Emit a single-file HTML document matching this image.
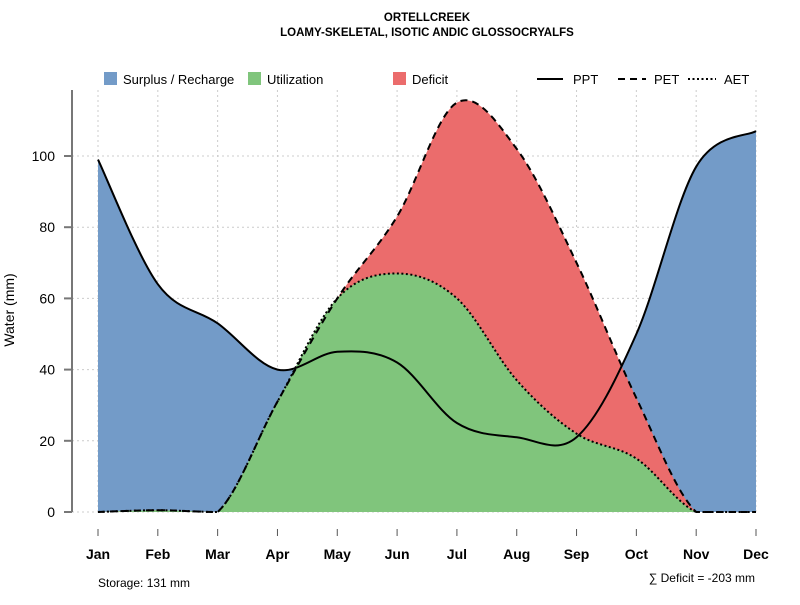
<!DOCTYPE html>
<html><head><meta charset="utf-8"><style>
body{margin:0;background:#fff}
svg{font-family:"Liberation Sans",sans-serif}
</style></head><body>
<svg id="c" width="800" height="600" xmlns="http://www.w3.org/2000/svg">
<text x="427" y="21" font-size="11.5" font-weight="bold" text-anchor="middle">ORTELLCREEK</text>
<text x="427" y="36" font-size="11.5" font-weight="bold" text-anchor="middle">LOAMY-SKELETAL, ISOTIC ANDIC GLOSSOCRYALFS</text>
<g id="grid"></g>
<g id="areas"></g>
<g id="lines"></g>
<g id="axes"></g>
<g font-size="13">
<rect x="104" y="72" width="13" height="13" fill="#739bc8"/>
<text x="123" y="84">Surplus / Recharge</text>
<rect x="248" y="72" width="13" height="13" fill="#80c57c"/>
<text x="267" y="84">Utilization</text>
<rect x="393" y="72" width="13" height="13" fill="#eb6c6c"/>
<text x="412" y="84">Deficit</text>
<line x1="537" y1="79" x2="563" y2="79" stroke="#000" stroke-width="2"/>
<text x="573" y="84">PPT</text>
<line x1="618" y1="79" x2="646" y2="79" stroke="#000" stroke-width="2" stroke-dasharray="7,5"/>
<text x="654" y="84">PET</text>
<line x1="688" y1="79" x2="716" y2="79" stroke="#000" stroke-width="2" stroke-dasharray="2,2.5"/>
<text x="724" y="84">AET</text>
</g>
<text x="98" y="587" font-size="12">Storage: 131 mm</text>
<text x="755" y="582" font-size="12" text-anchor="end">∑ Deficit = -203 mm</text>
<text transform="translate(14,310) rotate(-90)" font-size="14" text-anchor="middle">Water (mm)</text>
</svg>
<script>
const months=["Jan","Feb","Mar","Apr","May","Jun","Jul","Aug","Sep","Oct","Nov","Dec"];
const ppt=[99,64,53,40,45,42,25,21,21,50,97,107];
const pet=[0,0.5,0,31,60,83,115,102,70,32,0,0];
const aet=[0,0.5,0,31,60,67,60,37,22,15,0,0];
const yTicks=[0,20,40,60,80,100];
const NS="http://www.w3.org/2000/svg";
const x=i=>98+i*(756-98)/11;
const y=v=>512-v*3.56;
function mk(t,a,p){const e=document.createElementNS(NS,t);for(const k in a)e.setAttribute(k,a[k]);p.appendChild(e);return e;}
function path(vals){
 const P=vals.map((v,i)=>[x(i),y(v)]);
 let d=`M${P[0][0]},${P[0][1]}`;
 for(let i=0;i<P.length-1;i++){
  const p0=P[Math.max(0,i-1)],p1=P[i],p2=P[i+1],p3=P[Math.min(P.length-1,i+2)];
  const c1=[p1[0]+(p2[0]-p0[0])/6,p1[1]+(p2[1]-p0[1])/6];
  const c2=[p2[0]-(p3[0]-p1[0])/6,p2[1]-(p3[1]-p1[1])/6];
  d+=` C${c1[0]},${Math.min(y(0),c1[1])} ${c2[0]},${Math.min(y(0),c2[1])} ${p2[0]},${p2[1]}`;
 }
 return d;
}
const area=v=>path(v)+` L${x(11)},${y(0)} L${x(0)},${y(0)} Z`;
const g=document.getElementById('grid'),A=document.getElementById('areas'),L=document.getElementById('lines'),X=document.getElementById('axes');
months.forEach((m,i)=>{
 const e=mk('line',{x1:x(i),x2:x(i),y1:90,y2:512,stroke:'#ccc','stroke-dasharray':'2,3'},g);
 
 
 const t=mk('line',{x1:x(i),x2:x(i),y1:529,y2:536,stroke:'#555'},X);
 
 
 const l=mk('text',{x:x(i),y:559,'font-size':14,'font-weight':'bold','text-anchor':'middle'},X);l.textContent=m;
 
 
});
yTicks.forEach(v=>{
 const e=mk('line',{x1:72,x2:756,y1:y(v),y2:y(v),stroke:'#ccc','stroke-dasharray':'2,3'},g);
 
 
 const t=mk('line',{x1:64,x2:72,y1:y(v),y2:y(v),stroke:'#777','stroke-width':2},X);
 
 
 const l=mk('text',{x:55,y:y(v)+5,'font-size':14,'text-anchor':'end'},X);l.textContent=v;
 
 
});
const ax=mk('line',{x1:72,x2:72,y1:90,y2:512,stroke:'#777','stroke-width':2},X);


const a1=mk('path',{d:area(ppt),fill:'#739bc8'},A);


const a2=mk('path',{d:area(pet),fill:'#eb6c6c'},A);


const a3=mk('path',{d:area(aet),fill:'#80c57c'},A);


const l1=mk('path',{d:path(ppt),fill:'none',stroke:'#000','stroke-width':2},L);


const l2=mk('path',{d:path(pet),fill:'none',stroke:'#000','stroke-width':2,'stroke-dasharray':'7,5'},L);


const l3=mk('path',{d:path(aet),fill:'none',stroke:'#000','stroke-width':2,'stroke-dasharray':'2,2.5'},L);


</script>
</body></html>
